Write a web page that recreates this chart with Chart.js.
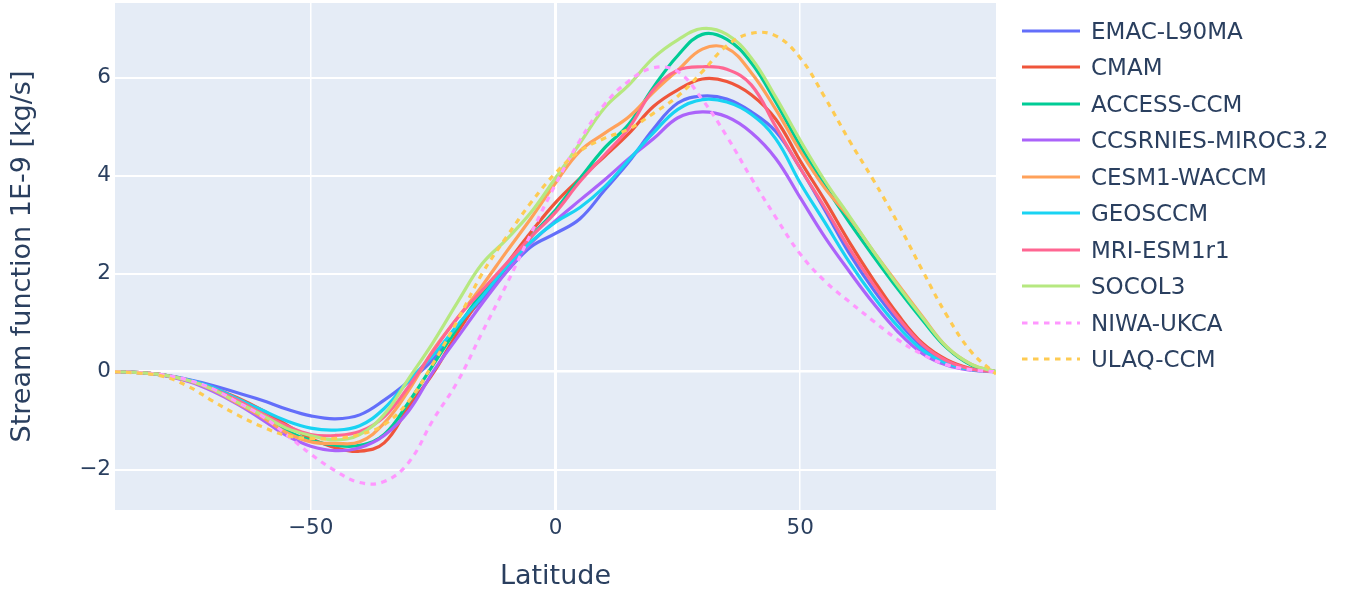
<!DOCTYPE html>
<html>
<head>
<meta charset="utf-8">
<script src="https://cdn.jsdelivr.net/npm/chart.js@4.4.1/dist/chart.umd.min.js"></script>
<style>
  body { margin: 0; background: #fff; font-family: "DejaVu Sans", sans-serif; }
  #wrap { position: relative; width: 1361px; height: 594px; }
  #legend { position: absolute; left: 1022px; top: 0; }
  .item { position: absolute; left: 0; height: 30px; display: flex; align-items: center; white-space: nowrap; color: #2a3f5f; font-size: 23px; }
  .item svg { margin-right: 11px; }
</style>
</head>
<body>
<div id="wrap">
  <canvas id="chart" width="1361" height="594"></canvas>
  <div id="legend"></div>
</div>
<script>
// latitude grid (degrees)
const lats = [-90, -85, -80, -75, -70, -65, -60, -55, -50, -45, -40, -35, -30, -25, -20, -15, -10, -5,
  0, 5, 10, 15, 20, 25, 30, 35, 40, 45, 50, 55, 60, 65, 70, 75, 80, 85, 90];

// stream function, 1E-9 kg/s
const emac = [0, -0.02, -0.07, -0.16, -0.28, -0.43, -0.58, -0.76, -0.9, -0.96, -0.88, -0.58, -0.2, 0.25, 0.9, 1.48, 2.04, 2.55,
  2.82, 3.12, 3.7, 4.28, 4.95, 5.48, 5.62, 5.56, 5.3, 4.9, 4.15, 3.3, 2.42, 1.67, 1.03, 0.51, 0.2, 0.05, 0];
const cmam = [0, -0.02, -0.07, -0.18, -0.33, -0.53, -0.78, -1.08, -1.36, -1.55, -1.62, -1.45, -0.72, -0.03, 0.8, 1.55, 2.2, 2.85,
  3.45, 3.94, 4.39, 4.86, 5.41, 5.75, 5.97, 5.92, 5.65, 5.15, 4.3, 3.5, 2.65, 1.87, 1.16, 0.58, 0.24, 0.06, 0];
const access = [0, -0.02, -0.07, -0.18, -0.36, -0.62, -0.9, -1.2, -1.4, -1.5, -1.5, -1.28, -0.62, 0.14, 0.9, 1.6, 2.11, 2.75,
  3.3, 3.94, 4.56, 5.05, 5.8, 6.45, 6.88, 6.78, 6.3, 5.5, 4.6, 3.8, 3.05, 2.35, 1.68, 1.05, 0.48, 0.13, 0];
const miroc = [0, -0.02, -0.08, -0.2, -0.4, -0.66, -0.97, -1.3, -1.52, -1.61, -1.55, -1.3, -0.8, 0.0, 0.7, 1.39, 2.04, 2.62,
  3.08, 3.5, 3.91, 4.35, 4.75, 5.18, 5.3, 5.2, 4.88, 4.35, 3.55, 2.75, 2.05, 1.39, 0.81, 0.37, 0.13, 0.03, 0];
const cesm = [0, -0.02, -0.07, -0.18, -0.37, -0.64, -0.92, -1.24, -1.43, -1.46, -1.43, -1.05, -0.38, 0.44, 1.1, 1.75, 2.45, 3.13,
  3.85, 4.5, 4.86, 5.2, 5.7, 6.15, 6.58, 6.6, 6.1, 5.35, 4.5, 3.75, 3.15, 2.45, 1.78, 1.12, 0.5, 0.15, 0];
const geos = [0, -0.02, -0.07, -0.17, -0.32, -0.55, -0.78, -1.0, -1.15, -1.19, -1.1, -0.75, -0.18, 0.34, 0.95, 1.53, 2.14, 2.65,
  3.05, 3.35, 3.77, 4.32, 4.87, 5.35, 5.55, 5.5, 5.25, 4.75, 3.85, 3.05, 2.24, 1.53, 0.92, 0.44, 0.17, 0.04, 0];
const mri = [0, -0.02, -0.07, -0.18, -0.35, -0.58, -0.85, -1.1, -1.28, -1.3, -1.22, -0.92, -0.3, 0.42, 1.1, 1.66, 2.21, 2.75,
  3.25, 3.88, 4.42, 4.97, 5.75, 6.15, 6.22, 6.17, 5.85, 5.0, 4.15, 3.35, 2.52, 1.77, 1.1, 0.55, 0.22, 0.05, 0];
const socol = [0, -0.02, -0.07, -0.18, -0.36, -0.62, -0.88, -1.15, -1.3, -1.39, -1.28, -0.87, -0.14, 0.6, 1.42, 2.2, 2.7, 3.25,
  3.95, 4.66, 5.38, 5.85, 6.4, 6.77, 7.0, 6.88, 6.4, 5.6, 4.72, 3.9, 3.18, 2.45, 1.75, 1.1, 0.5, 0.15, 0];
const niwa = [0, -0.02, -0.07, -0.17, -0.35, -0.62, -0.9, -1.28, -1.68, -2.02, -2.26, -2.24, -1.85, -0.98, -0.2, 0.8, 1.78, 2.82,
  3.82, 4.72, 5.45, 5.93, 6.2, 6.12, 5.55, 4.8, 3.95, 3.15, 2.4, 1.85, 1.43, 1.03, 0.65, 0.35, 0.14, 0.04, 0];
const ulaq = [0, -0.03, -0.1, -0.3, -0.6, -0.88, -1.12, -1.3, -1.36, -1.36, -1.28, -1.08, -0.6, 0.17, 1.05, 2.0, 2.75, 3.45,
  4.05, 4.5, 4.76, 4.95, 5.27, 5.62, 6.12, 6.65, 6.9, 6.85, 6.4, 5.6, 4.72, 3.9, 3.02, 2.06, 1.14, 0.4, -0.05];

const names = ['EMAC-L90MA', 'CMAM', 'ACCESS-CCM', 'CCSRNIES-MIROC3.2', 'CESM1-WACCM',
  'GEOSCCM', 'MRI-ESM1r1', 'SOCOL3', 'NIWA-UKCA', 'ULAQ-CCM'];
const series = [emac, cmam, access, miroc, cesm, geos, mri, socol, niwa, ulaq];
const colors = ['#636efa', '#EF553B', '#00cc96', '#ab63fa', '#FFA15A',
  '#19d3f3', '#FF6692', '#B6E880', '#FF97FF', '#FECB52'];
const dotted = [false, false, false, false, false, false, false, false, true, true];

const xTicks = [-50, 0, 50];
const yTicks = [-2, 0, 2, 4, 6];

const textColor = '#2a3f5f';
const fontFamily = 'DejaVu Sans';
const dash = [5.5, 5.5];

function fmt(v) {
  return v < 0 ? '\u2212' + Math.abs(v) : String(v);
}

// light blue plot background like plotly
const plotBg = {
  id: 'plotBg',
  beforeDraw(chart) {
    const { ctx, chartArea: a } = chart;
    ctx.save();
    ctx.fillStyle = '#e5ecf6';
    ctx.fillRect(a.left, a.top, a.right - a.left, a.bottom - a.top);
    ctx.restore();
  }
};

const datasets = names.map((name, i) => ({
  label: name,
  data: lats.map((lat, j) => ({ x: lat, y: series[i][j] })),
  borderColor: colors[i],
  borderWidth: 3.2,
  borderDash: dotted[i] ? dash : [],
  pointRadius: 0,
  fill: false,
  tension: 0.4,
  order: names.length - i
}));

const chart = new Chart(document.getElementById('chart'), {
  type: 'line',
  data: { datasets },
  options: {
    responsive: false,
    animation: false,
    devicePixelRatio: 1,
    layout: { padding: { left: 0, top: 3, right: 365, bottom: 0 } },
    plugins: { legend: { display: false }, tooltip: { enabled: false } },
    scales: {
      x: {
        type: 'linear',
        min: -90,
        max: 90,
        afterBuildTicks: s => { s.ticks = xTicks.map(v => ({ value: v })); },
        afterFit: s => {
          s.height = 84;
          s.paddingLeft = 0;
          s.paddingRight = 0;
        },
        ticks: {
          callback: v => fmt(v),
          color: textColor,
          font: { family: fontFamily, size: 21.5 },
          padding: 6,
          maxRotation: 0
        },
        grid: {
          color: '#ffffff',
          lineWidth: c => (c.tick && c.tick.value === 0 ? 3 : 1.5),
          drawTicks: false
        },
        border: { display: false },
        title: {
          display: true,
          text: 'Latitude',
          color: textColor,
          font: { family: fontFamily, size: 27 },
          padding: { top: 0, bottom: 1 }
        }
      },
      y: {
        type: 'linear',
        min: -2.82,
        max: 7.52,
        afterBuildTicks: s => { s.ticks = yTicks.map(v => ({ value: v })); },
        afterFit: s => {
          s.width = 115;
          s.paddingTop = 0;
          s.paddingBottom = 0;
        },
        ticks: {
          callback: v => fmt(v),
          color: textColor,
          font: { family: fontFamily, size: 21.5 },
          padding: 4
        },
        grid: {
          color: '#ffffff',
          lineWidth: c => (c.tick && c.tick.value === 0 ? 2.5 : 2),
          drawTicks: false
        },
        border: { display: false },
        title: {
          display: true,
          text: 'Stream function 1E-9 [kg/s]',
          color: textColor,
          font: { family: fontFamily, size: 27 },
          padding: { top: 7, bottom: 0 }
        }
      }
    }
  },
  plugins: [plotBg]
});

// legend, same order as the traces
const legend = document.getElementById('legend');
names.forEach((name, i) => {
  const row = document.createElement('div');
  row.className = 'item';
  row.style.top = (30.7 + 36.5 * i - 15) + 'px';
  const dashAttr = dotted[i] ? ` stroke-dasharray="${dash.join(',')}"` : '';
  row.innerHTML = `<svg width="58" height="6"><line x1="0" y1="3" x2="58" y2="3" stroke="${colors[i]}" stroke-width="3.2"${dashAttr}/></svg><span>${name}</span>`;
  legend.appendChild(row);
});
</script>
</body>
</html>
